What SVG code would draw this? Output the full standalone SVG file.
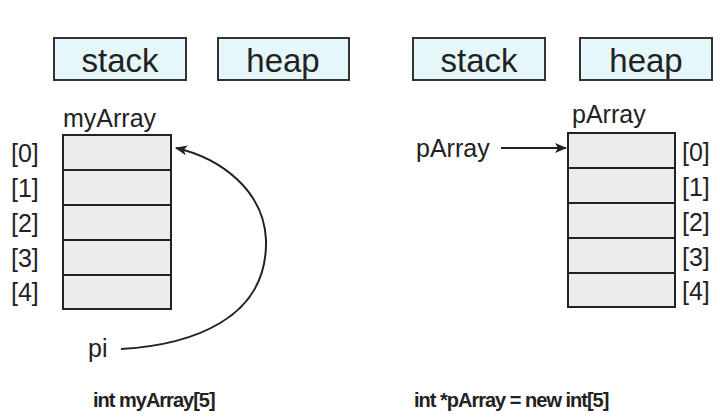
<svg xmlns="http://www.w3.org/2000/svg" width="720" height="418" viewBox="0 0 720 418">
<style>
.hdr{fill:#e6f7fb;stroke:#333;stroke-width:2}
.cell{fill:#ececec;stroke:#222;stroke-width:2}
text{font-family:"Liberation Sans",Arial,sans-serif;fill:#222}
.h{font-size:33px;text-anchor:middle}
.t{font-size:25px}
.b{font-size:20px;font-weight:bold;letter-spacing:-1px}
.c{fill:none;stroke:#222;stroke-width:2}
</style>
<defs><marker id="ah" markerWidth="12" markerHeight="10" refX="11" refY="5" orient="auto" markerUnits="userSpaceOnUse"><path d="M0,0 L12,5 L0,10 L3,5 Z" fill="#222"/></marker></defs>
<g id="stack1"><rect class="hdr" x="54" y="38" width="132" height="42"/><text class="h" x="120" y="72">stack</text></g>
<g id="heap1"><rect class="hdr" x="218" y="38" width="131" height="42"/><text class="h" x="283" y="72">heap</text></g>
<g id="stack2"><rect class="hdr" x="413" y="38" width="132" height="42"/><text class="h" x="479" y="72">stack</text></g>
<g id="heap2"><rect class="hdr" x="580" y="38" width="132" height="42"/><text class="h" x="646" y="72">heap</text></g>
<g id="myArray">
<text class="t" x="63" y="127">myArray</text>
<rect class="cell" x="63" y="135" width="108" height="35"/><rect class="cell" x="63" y="170" width="108" height="35"/><rect class="cell" x="63" y="205" width="108" height="35"/><rect class="cell" x="63" y="240" width="108" height="35"/><rect class="cell" x="63" y="275" width="108" height="34"/>
<text class="t" x="11" y="162">[0]</text><text class="t" x="11" y="197">[1]</text><text class="t" x="11" y="232">[2]</text><text class="t" x="11" y="267">[3]</text><text class="t" x="11" y="301">[4]</text>
</g>
<g id="pi"><text class="t" x="88" y="357">pi</text></g>
<g id="pArrayHeap">
<text class="t" x="572" y="123">pArray</text>
<rect class="cell" x="568" y="133" width="107" height="35"/><rect class="cell" x="568" y="168" width="107" height="35"/><rect class="cell" x="568" y="203" width="107" height="35"/><rect class="cell" x="568" y="238" width="107" height="35"/><rect class="cell" x="568" y="273" width="107" height="34"/>
<text class="t" x="682" y="161">[0]</text><text class="t" x="682" y="196">[1]</text><text class="t" x="682" y="231">[2]</text><text class="t" x="682" y="266">[3]</text><text class="t" x="682" y="300">[4]</text>
</g>
<g id="pArrayPtr"><text class="t" x="416" y="157">pArray</text></g>
<g id="connectors">
<path class="c" d="M121,349 C190,345 268,320 266,240 C264,190 220,158 176,148" marker-end="url(#ah)"/>
<path class="c" d="M501,148 L566,148" marker-end="url(#ah)"/>
</g>
<text class="b" x="93" y="407">int myArray[5]</text>
<text class="b" x="414" y="407">int *pArray = new int[5]</text>
</svg>
